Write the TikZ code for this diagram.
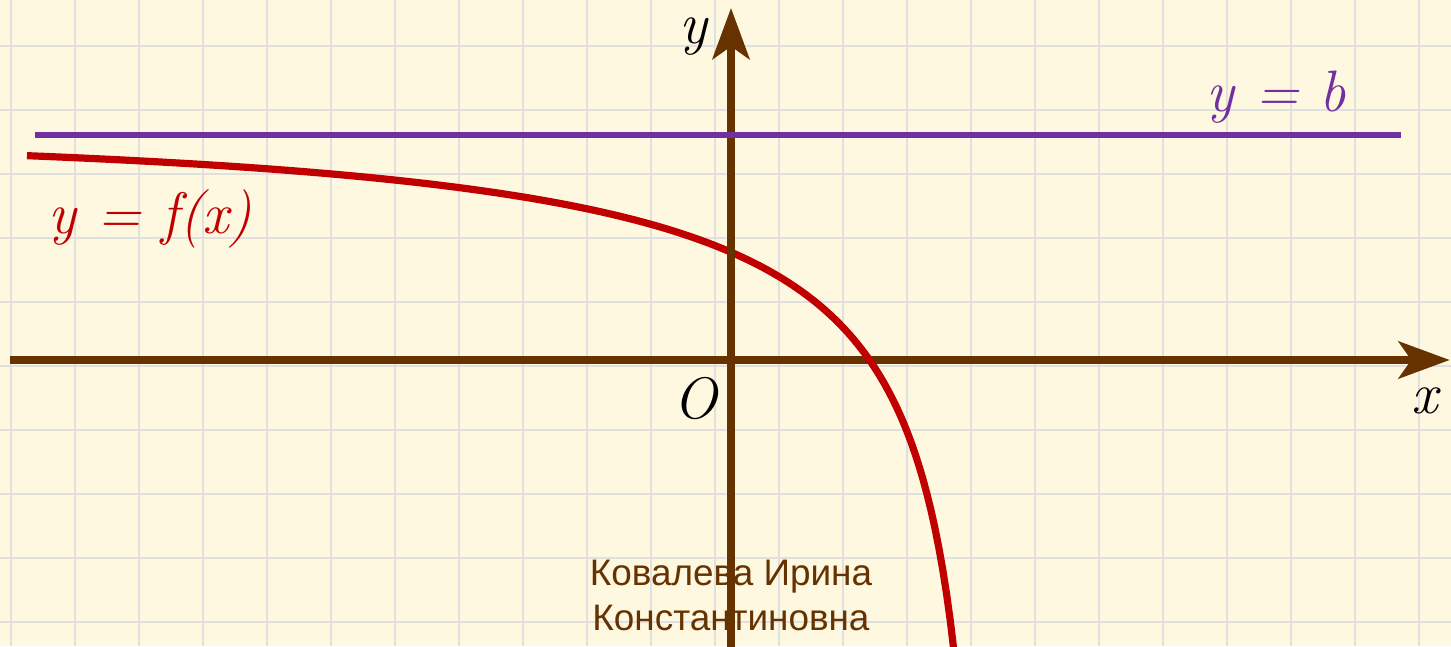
\documentclass[tikz,border=0pt]{standalone}
\usepackage{fontspec}
\newfontfamily\auteurfont{Liberation Sans}
\usepackage{xcolor}
\definecolor{papier}{RGB}{255,248,225}
\definecolor{grillegris}{RGB}{224,224,224}
\definecolor{brun}{RGB}{102,51,0}
\definecolor{rouge}{RGB}{192,0,0}
\definecolor{violet}{RGB}{112,48,160}
\usetikzlibrary{arrows.meta}

\begin{document}
\begin{tikzpicture}[x=1cm, y=1cm,
      grille/.style={draw=grillegris, line width=1.1pt},
      axe/.style={draw=brun, line width=3.4pt,
                  -{Stealth[length=8mm, width=5.8mm, inset=2mm]}},
      droite/.style={draw=violet, line width=2.6pt},
      courbe/.style={draw=rouge, line width=3.2pt},
      etiq/.style={font=\fontsize{26}{31}\selectfont\itshape, anchor=base, inner sep=0pt},
      auteur/.style={font=\auteurfont\fontsize{16.4}{19}\selectfont, text=brun,
                     anchor=base, inner sep=0pt}]
    \useasboundingbox (-11.422,-4.469) rectangle (11.25,5.625);
    \fill[papier] (-11.422,-4.469) rectangle (11.25,5.625);
    % quadrillage
    \foreach \i in {0,...,22}
      \draw[grille] (-11.25+\i,-4.469) -- (-11.25+\i,5.625);
    \foreach \j in {0,...,9}
      \draw[grille] (-11.422,4.906-\j) -- (11.25,4.906-\j);
    % auteur
    \node[auteur] (auteur1) at (0,-3.52) {Ковалева Ирина};
    \node[auteur] (auteur2) at (0,-4.22) {Константиновна};
    % axes
    \coordinate (xg) at (-11.27,0);
    \coordinate (xd) at (11.23,0);
    \coordinate (yb) at (0,-4.6);
    \coordinate (yh) at (0,5.5);
    \draw[axe] (xg) -- (xd);
    % courbe y = f(x)
    \draw[courbe] plot[domain=-11:3.49, samples=240, variable=\u]
      (\u, {3.516-4.454*exp(0.083*\u)*pow(4.1-\u,-0.63)});
    \draw[axe] (yb) -- (yh);
    % asymptote y = b
    \coordinate (bg) at (-10.875,3.516);
    \coordinate (bd) at (10.47,3.516);
    \draw[droite] (bg) -- (bd);
    % etiquettes
    \node[etiq] (labx) at (10.84,-0.83) {x};
    \node[etiq] (laby) at (-0.586,4.94) {y};
    \node[etiq] (origine) at (-0.56,-0.92) {O};
    \node[etiq, text=rouge] (labf) at (-9.07,1.98) {y = f(x)};
    \node[etiq, text=violet] (labb) at (8.52,3.875) {y = b};
  \end{tikzpicture}
\end{document}
